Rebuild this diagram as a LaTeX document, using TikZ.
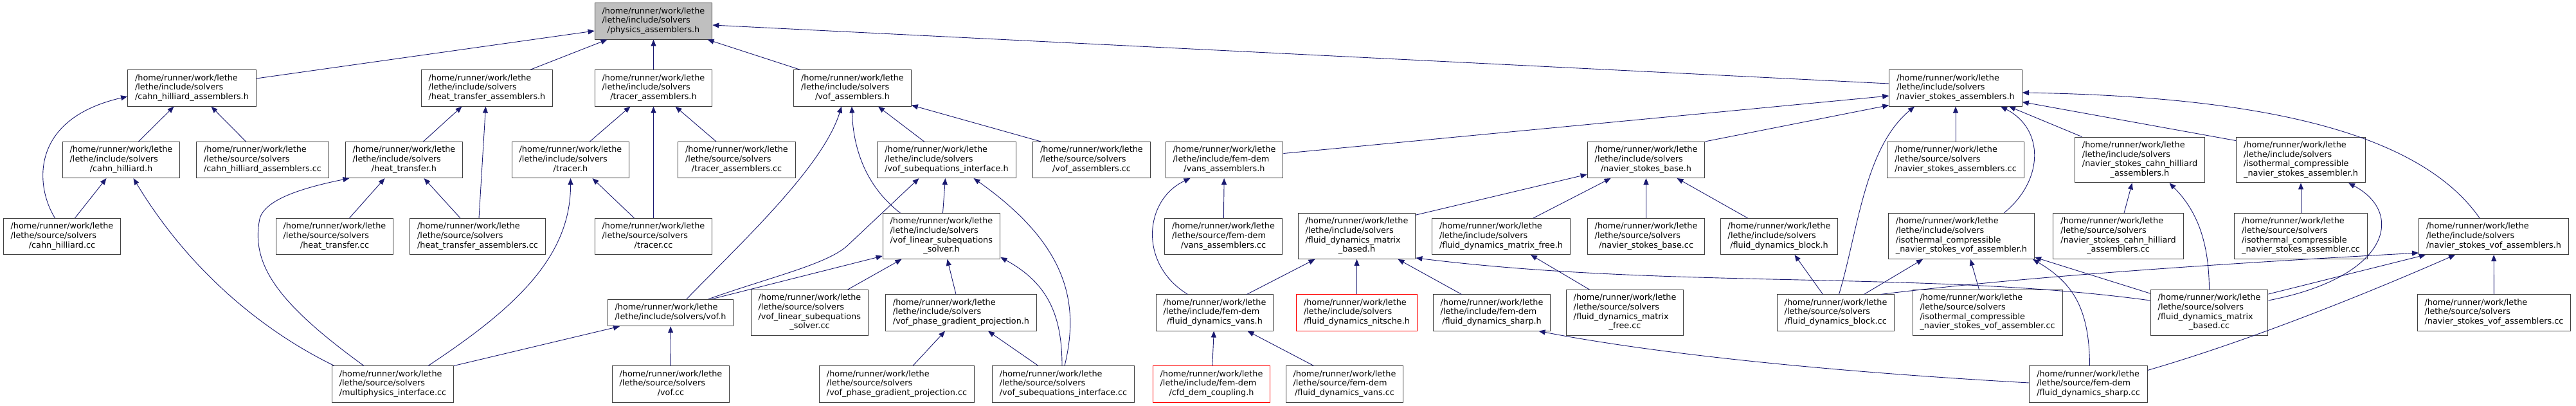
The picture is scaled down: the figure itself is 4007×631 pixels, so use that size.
\documentclass[tikz,border=0pt]{standalone}
\usepackage{fontspec}
\setmainfont{DejaVu Sans}
\usepackage{tikz}
\usetikzlibrary{arrows.meta}

\definecolor{edgeblue}{HTML}{191970}
\definecolor{boxgrey}{HTML}{404040}
\definecolor{rootfill}{HTML}{BFBFBF}

\newcommand{\lblii}[2]{\begin{tabular}{@{}l@{}}#1\\\multicolumn{1}{@{}c@{}}{#2}\end{tabular}}
\newcommand{\lbliii}[3]{\begin{tabular}{@{}l@{}}#1\\#2\\\multicolumn{1}{@{}c@{}}{#3}\end{tabular}}
\newcommand{\lbliv}[4]{\begin{tabular}{@{}l@{}}#1\\#2\\#3\\\multicolumn{1}{@{}c@{}}{#4}\end{tabular}}

\begin{document}
\begin{tikzpicture}[
        x=1pt, y=-1pt,
        filebox/.style={
            rectangle, draw=boxgrey, fill=white, line width=1pt,
            inner xsep=11.5pt, inner ysep=6pt,
            font=\fontsize{12.8}{14.7}\selectfont
        },
        rootbox/.style={filebox, fill=rootfill},
        missingbox/.style={filebox, draw=red},
        dep/.style={draw=edgeblue, line width=0.9pt, -{Triangle[length=10pt,width=8pt]}}
    ]
        \useasboundingbox (0,0) rectangle (4007,631);

        \node[rootbox] (phys) at (1016.5,33) {\lbliii{/home/runner/work/lethe}{/lethe/include/solvers}{/physics\_assemblers.h}};

        \node[filebox] (cha_h) at (298.5,137) {\lbliii{/home/runner/work/lethe}{/lethe/include/solvers}{/cahn\_hilliard\_assemblers.h}};
        \node[filebox] (hta_h) at (757.5,137) {\lbliii{/home/runner/work/lethe}{/lethe/include/solvers}{/heat\_transfer\_assemblers.h}};
        \node[filebox] (tra_h) at (1016.5,137) {\lbliii{/home/runner/work/lethe}{/lethe/include/solvers}{/tracer\_assemblers.h}};
        \node[filebox] (vofa_h) at (1326,137) {\lbliii{/home/runner/work/lethe}{/lethe/include/solvers}{/vof\_assemblers.h}};
        \node[filebox] (nsa_h) at (3042,137) {\lbliii{/home/runner/work/lethe}{/lethe/include/solvers}{/navier\_stokes\_assemblers.h}};

        \node[filebox] (ch_h) at (188.5,248.5) {\lbliii{/home/runner/work/lethe}{/lethe/include/solvers}{/cahn\_hilliard.h}};
        \node[filebox] (cha_cc) at (408.5,248.5) {\lbliii{/home/runner/work/lethe}{/lethe/source/solvers}{/cahn\_hilliard\_assemblers.cc}};
        \node[filebox] (ht_h) at (628.5,248.5) {\lbliii{/home/runner/work/lethe}{/lethe/include/solvers}{/heat\_transfer.h}};
        \node[filebox] (tr_h) at (887.5,248.5) {\lbliii{/home/runner/work/lethe}{/lethe/include/solvers}{/tracer.h}};
        \node[filebox] (tra_cc) at (1146,248.5) {\lbliii{/home/runner/work/lethe}{/lethe/source/solvers}{/tracer\_assemblers.cc}};
        \node[filebox] (vofsi_h) at (1472.5,248.5) {\lbliii{/home/runner/work/lethe}{/lethe/include/solvers}{/vof\_subequations\_interface.h}};
        \node[filebox] (vofa_cc) at (1698,248.5) {\lbliii{/home/runner/work/lethe}{/lethe/source/solvers}{/vof\_assemblers.cc}};
        \node[filebox] (vansa_h) at (1904.5,248.5) {\lbliii{/home/runner/work/lethe}{/lethe/include/fem-dem}{/vans\_assemblers.h}};
        \node[filebox] (nsb_h) at (2560.5,248.5) {\lbliii{/home/runner/work/lethe}{/lethe/include/solvers}{/navier\_stokes\_base.h}};
        \node[filebox] (nsa_cc) at (3042,248.5) {\lbliii{/home/runner/work/lethe}{/lethe/source/solvers}{/navier\_stokes\_assemblers.cc}};
        \node[filebox] (nscha_h) at (3328.5,248.5) {\lbliv{/home/runner/work/lethe}{/lethe/include/solvers}{/navier\_stokes\_cahn\_hilliard}{\_assemblers.h}};
        \node[filebox] (icnsa_h) at (3579,248.5) {\lbliv{/home/runner/work/lethe}{/lethe/include/solvers}{/isothermal\_compressible}{\_navier\_stokes\_assembler.h}};

        \node[filebox] (ch_cc) at (96.5,367.5) {\lbliii{/home/runner/work/lethe}{/lethe/source/solvers}{/cahn\_hilliard.cc}};
        \node[filebox] (ht_cc) at (520.5,367.5) {\lbliii{/home/runner/work/lethe}{/lethe/source/solvers}{/heat\_transfer.cc}};
        \node[filebox] (hta_cc) at (743,367.5) {\lbliii{/home/runner/work/lethe}{/lethe/source/solvers}{/heat\_transfer\_assemblers.cc}};
        \node[filebox] (tr_cc) at (1016.5,367.5) {\lbliii{/home/runner/work/lethe}{/lethe/source/solvers}{/tracer.cc}};
        \node[filebox] (voflss_h) at (1464.5,367) {\lbliv{/home/runner/work/lethe}{/lethe/include/solvers}{/vof\_linear\_subequations}{\_solver.h}};
        \node[filebox] (vansa_cc) at (1903,367.5) {\lbliii{/home/runner/work/lethe}{/lethe/source/fem-dem}{/vans\_assemblers.cc}};
        \node[filebox] (fdmb_h) at (2110.5,367) {\lbliv{/home/runner/work/lethe}{/lethe/include/solvers}{/fluid\_dynamics\_matrix}{\_based.h}};
        \node[filebox] (fdmf_h) at (2335,367.5) {\lbliii{/home/runner/work/lethe}{/lethe/include/solvers}{/fluid\_dynamics\_matrix\_free.h}};
        \node[filebox] (nsb_cc) at (2560.5,367.5) {\lbliii{/home/runner/work/lethe}{/lethe/source/solvers}{/navier\_stokes\_base.cc}};
        \node[filebox] (fdb_h) at (2767.5,367.5) {\lbliii{/home/runner/work/lethe}{/lethe/include/solvers}{/fluid\_dynamics\_block.h}};
        \node[filebox] (icnsva_h) at (3051,367) {\lbliv{/home/runner/work/lethe}{/lethe/include/solvers}{/isothermal\_compressible}{\_navier\_stokes\_vof\_assembler.h}};
        \node[filebox] (nscha_cc) at (3295,367) {\lbliv{/home/runner/work/lethe}{/lethe/source/solvers}{/navier\_stokes\_cahn\_hilliard}{\_assemblers.cc}};
        \node[filebox] (icnsa_cc) at (3579,367) {\lbliv{/home/runner/work/lethe}{/lethe/source/solvers}{/isothermal\_compressible}{\_navier\_stokes\_assembler.cc}};
        \node[filebox] (nsvofa_h) at (3879,367.5) {\lbliii{/home/runner/work/lethe}{/lethe/include/solvers}{/navier\_stokes\_vof\_assemblers.h}};

        \node[filebox] (vof_h) at (1043,486) {\lblii{/home/runner/work/lethe}{/lethe/include/solvers/vof.h}};
        \node[filebox] (voflss_cc) at (1259.5,486) {\lbliv{/home/runner/work/lethe}{/lethe/source/solvers}{/vof\_linear\_subequations}{\_solver.cc}};
        \node[filebox] (vofpgp_h) at (1495,486) {\lbliii{/home/runner/work/lethe}{/lethe/include/solvers}{/vof\_phase\_gradient\_projection.h}};
        \node[filebox] (fdv_h) at (1889.5,486) {\lbliii{/home/runner/work/lethe}{/lethe/include/fem-dem}{/fluid\_dynamics\_vans.h}};
        \node[missingbox] (fdn_h) at (2110.5,486) {\lbliii{/home/runner/work/lethe}{/lethe/include/solvers}{/fluid\_dynamics\_nitsche.h}};
        \node[filebox] (fds_h) at (2320.5,486) {\lbliii{/home/runner/work/lethe}{/lethe/include/fem-dem}{/fluid\_dynamics\_sharp.h}};
        \node[filebox] (fdmf_cc) at (2527.5,486) {\lbliv{/home/runner/work/lethe}{/lethe/source/solvers}{/fluid\_dynamics\_matrix}{\_free.cc}};
        \node[filebox] (fdb_cc) at (2855.5,486) {\lbliii{/home/runner/work/lethe}{/lethe/source/solvers}{/fluid\_dynamics\_block.cc}};
        \node[filebox] (icnsva_cc) at (3091.5,486) {\lbliv{/home/runner/work/lethe}{/lethe/source/solvers}{/isothermal\_compressible}{\_navier\_stokes\_vof\_assembler.cc}};
        \node[filebox] (fdmb_cc) at (3436.5,486) {\lbliv{/home/runner/work/lethe}{/lethe/source/solvers}{/fluid\_dynamics\_matrix}{\_based.cc}};
        \node[filebox] (nsvofa_cc) at (3879.5,486) {\lbliii{/home/runner/work/lethe}{/lethe/source/solvers}{/navier\_stokes\_vof\_assemblers.cc}};

        \node[filebox] (mpi_cc) at (611,597) {\lbliii{/home/runner/work/lethe}{/lethe/source/solvers}{/multiphysics\_interface.cc}};
        \node[filebox] (vof_cc) at (1043.5,597) {\lbliii{/home/runner/work/lethe}{/lethe/source/solvers}{/vof.cc}};
        \node[filebox] (vofpgp_cc) at (1395,597) {\lbliii{/home/runner/work/lethe}{/lethe/source/solvers}{/vof\_phase\_gradient\_projection.cc}};
        \node[filebox] (vofsi_cc) at (1654,597) {\lbliii{/home/runner/work/lethe}{/lethe/source/solvers}{/vof\_subequations\_interface.cc}};
        \node[missingbox] (cfd_h) at (1884.5,597) {\lbliii{/home/runner/work/lethe}{/lethe/include/fem-dem}{/cfd\_dem\_coupling.h}};
        \node[filebox] (fdv_cc) at (2091.5,597) {\lbliii{/home/runner/work/lethe}{/lethe/source/fem-dem}{/fluid\_dynamics\_vans.cc}};
        \node[filebox] (fds_cc) at (3248.5,597) {\lbliii{/home/runner/work/lethe}{/lethe/source/fem-dem}{/fluid\_dynamics\_sharp.cc}};

        \draw[dep] ([yshift=15pt]cha_h.east) -- ([yshift=-15pt]phys.west);
        \draw[dep] ([xshift=67pt]hta_h.north) -- ([xshift=-72pt]phys.south);
        \draw[dep] (tra_h) -- (phys);
        \draw[dep] ([xshift=-81pt]vofa_h.north) -- ([xshift=84pt]phys.south);
        \draw[dep] ([yshift=7pt]nsa_h.west) -- ([yshift=-6pt]phys.east);

        \draw[dep] ([xshift=27pt]ch_h.north) -- ([xshift=-28pt]cha_h.south);
        \draw[dep] ([xshift=-26pt]cha_cc.north) -- ([xshift=30pt]cha_h.south);
        \draw[dep] ([xshift=-11pt]ch_cc.north) .. controls (55,290) and (45,185) .. ([yshift=-13pt]cha_h.west);
        \draw[dep] ([xshift=20pt]ch_cc.north) -- ([xshift=-23pt]ch_h.south);
        \draw[dep] ([xshift=-91pt]mpi_cc.north) .. controls (420,520) and (300,430) .. ([xshift=19pt]ch_h.south);

        \draw[dep] ([xshift=30pt]ht_h.north) -- ([xshift=-39pt]hta_h.south);
        \draw[dep] ([xshift=2pt]hta_cc.north) -- ([xshift=-2pt]hta_h.south);
        \draw[dep] ([xshift=23pt]ht_cc.north) -- ([xshift=-30pt]ht_h.south);
        \draw[dep] ([xshift=-27pt]hta_cc.north) -- ([xshift=31pt]ht_h.south);
        \draw[dep] ([xshift=-45pt]mpi_cc.north) .. controls (430,470) and (390,410) .. (404,340)
            .. controls (412,310) and (470,292) .. ([xshift=-85pt]ht_h.south);

        \draw[dep] ([xshift=30pt]tr_h.north) -- ([xshift=-36pt]tra_h.south);
        \draw[dep] ([xshift=-32pt]tra_cc.north) -- ([xshift=34pt]tra_h.south);
        \draw[dep] (tr_cc) -- (tra_h);
        \draw[dep] ([xshift=-30pt]tr_cc.north) -- ([xshift=34pt]tr_h.south);
        \draw[dep] ([xshift=55pt]mpi_cc.north) .. controls (800,480) and (888,400) .. (tr_h.south);

        \draw[dep] ([xshift=25pt]vof_h.north) .. controls (1150,380) and (1280,260) .. ([xshift=-17pt]vofa_h.south);
        \draw[dep] ([xshift=-64pt]voflss_h.north) .. controls (1360,300) and (1328,250) .. ([xshift=-1pt]vofa_h.south);
        \draw[dep] ([xshift=-35pt]vofsi_h.north) -- ([xshift=40pt]vofa_h.south);
        \draw[dep] ([xshift=-79pt]vofa_cc.north) -- ([yshift=2pt]vofa_h.south east);

        \draw[dep] ([xshift=59pt]vof_h.north) .. controls (1200,430) and (1290,410) .. (1320,380) -- ([xshift=-43pt]vofsi_h.south);
        \draw[dep] ([xshift=2pt]voflss_h.north) -- ([xshift=-2pt]vofsi_h.south);
        \draw[dep] ([xshift=2pt]vofsi_cc.north) .. controls (1680,470) and (1660,380) .. ([xshift=42pt]vofsi_h.south);

        \draw[dep] ([xshift=64pt]vof_h.north) -- ([yshift=5pt]voflss_h.south west);
        \draw[dep] ([xshift=59pt]voflss_cc.north) -- ([xshift=-62pt]voflss_h.south);
        \draw[dep] ([xshift=-8pt]vofpgp_h.north) -- ([xshift=9pt]voflss_h.south);
        \draw[dep] ([xshift=-2pt]vofsi_cc.north) .. controls (1652,490) and (1630,440) .. ([yshift=3pt]voflss_h.south east);

        \draw[dep] ([xshift=25pt]vofpgp_cc.north) -- ([xshift=-25pt]vofpgp_h.south);
        \draw[dep] ([xshift=-39pt]vofsi_cc.north) -- ([xshift=42pt]vofpgp_h.south);

        \draw[dep] (mpi_cc.north east) -- ([xshift=-79pt]vof_h.south);
        \draw[dep] (vof_cc) -- (vof_h);

        \draw[dep] ([yshift=10pt]vansa_h.east) -- ([yshift=-12pt]nsa_h.west);
        \draw[dep] (nsb_h.north east) -- ([yshift=2pt]nsa_h.south west);
        \draw[dep] ([xshift=5pt]fdb_cc.north) .. controls (2890,360) and (2900,230) .. ([xshift=-64pt]nsa_h.south);
        \draw[dep] (nsa_cc) -- (nsa_h);
        \draw[dep] ([xshift=66pt]icnsva_h.north) .. controls (3180,280) and (3180,200) .. ([xshift=70pt]nsa_h.south);
        \draw[dep] ([xshift=-90pt]nscha_h.north) -- ([xshift=83pt]nsa_h.south);
        \draw[dep] ([yshift=-6pt]icnsa_h.north west) -- ([yshift=7pt]nsa_h.south east);
        \draw[dep] ([xshift=-22pt]nsvofa_h.north) .. controls (3760,200) and (3500,150) .. ([yshift=-7pt]nsa_h.east);

        \draw[dep] ([xshift=-42pt]fdv_h.north) .. controls (1770,410) and (1780,310) .. ([xshift=-53pt]vansa_h.south);
        \draw[dep] (vansa_cc) -- (vansa_h);

        \draw[dep] ([yshift=-3pt]fdmb_h.north east) -- ([yshift=6pt]nsb_h.south west);
        \draw[dep] ([xshift=50pt]fdmf_h.north) -- ([xshift=-55pt]nsb_h.south);
        \draw[dep] (nsb_cc) -- (nsb_h);
        \draw[dep] ([xshift=-49pt]fdb_h.north) -- ([xshift=48pt]nsb_h.south);

        \draw[dep] ([xshift=50pt]fdv_h.north) -- ([xshift=-65pt]fdmb_h.south);
        \draw[dep] (fdn_h) -- (fdmb_h);
        \draw[dep] ([xshift=-47pt]fds_h.north) -- ([xshift=64pt]fdmb_h.south);
        \draw[dep] ([yshift=19pt]fdmb_cc.west) .. controls (3000,420) and (2600,450) .. ([yshift=2pt]fdmb_h.south east);

        \draw[dep] ([xshift=-55pt]fdmf_cc.north) -- ([xshift=46pt]fdmf_h.south);
        \draw[dep] ([xshift=-48pt]fdv_cc.north) -- ([xshift=51pt]fdv_h.south);
        \draw[dep] (cfd_h) -- (fdv_h);
        \draw[dep] ([yshift=2pt]fds_cc.west) .. controls (2800,575) and (2550,545) .. ([xshift=73pt]fds_h.south);
        \draw[dep] ([xshift=-20pt]fdb_cc.north) -- ([xshift=24pt]fdb_h.south);

        \draw[dep] ([xshift=44pt]fdb_cc.north) -- ([xshift=-60pt]icnsva_h.south);
        \draw[dep] ([xshift=-13pt]icnsva_cc.north) -- ([xshift=14pt]icnsva_h.south);
        \draw[dep] ([xshift=2pt]fds_cc.north) .. controls (3250,480) and (3225,440) .. ([xshift=-3pt]icnsva_h.south east);
        \draw[dep] ([yshift=-6pt]fdmb_cc.north west) -- ([yshift=3pt]icnsva_h.south east);

        \draw[dep] ([xshift=70pt]fdb_cc.north) .. controls (3150,430) and (3450,410) .. ([yshift=3pt]nsvofa_h.south west);
        \draw[dep] ([yshift=-7pt]fdmb_cc.north east) -- ([xshift=11pt]nsvofa_h.south west);
        \draw[dep] ([yshift=-7pt]fds_cc.north east) .. controls (3480,535) and (3650,470) .. ([xshift=-60pt]nsvofa_h.south);
        \draw[dep] (nsvofa_cc) -- (nsvofa_h);

        \draw[dep] (icnsa_cc) -- (icnsa_h);
        \draw[dep] ([yshift=19pt]fdmb_cc.east) .. controls (3720,430) and (3740,330) .. ([xshift=74pt]icnsa_h.south);
        \draw[dep] ([xshift=9pt]nscha_cc.north) -- ([xshift=-12pt]nscha_h.south);
        \draw[dep] (fdmb_cc.north) .. controls (3436,380) and (3420,330) .. ([xshift=46pt]nscha_h.south);
    \end{tikzpicture}
\end{document}
